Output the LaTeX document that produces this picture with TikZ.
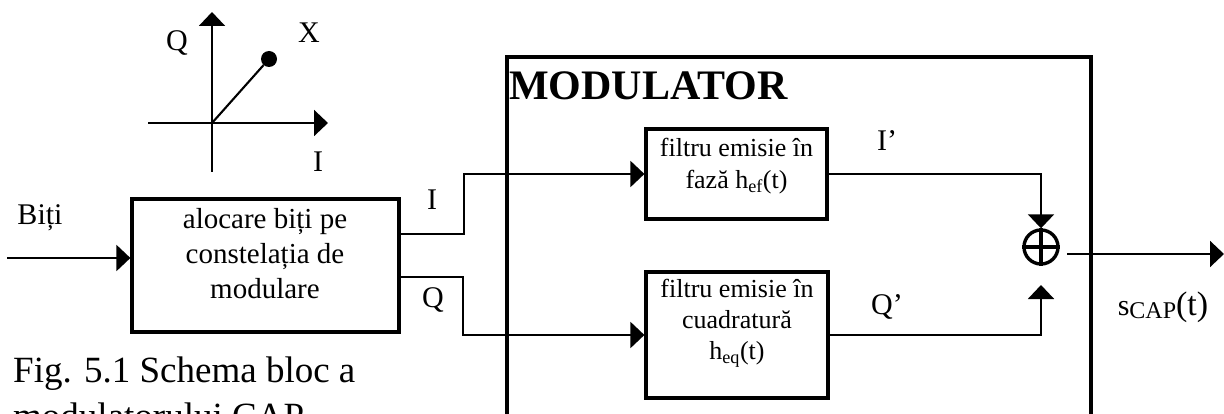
\documentclass[tikz,border=0pt]{standalone}
\usepackage{fontspec}
\setmainfont{Liberation Serif}
\usetikzlibrary{arrows.meta}
\begin{document}
\begin{tikzpicture}[x=1pt,y=-1pt,
  box/.style={draw, line width=3.2pt, inner sep=0pt},
  conn/.style={line width=2.1pt},
  arr/.style={conn, -{Triangle[length=14pt,width=26pt]}},
  lbl/.style={font=\fontsize{30}{36}\selectfont, inner sep=0pt},
  btext/.style={align=center, inner sep=0pt}]
\useasboundingbox (0,0) rectangle (1224,414);
\clip (0,0) rectangle (1224,414);

% constellation axes
\coordinate (O) at (212,123);
\coordinate (vb) at (212,172);
\coordinate (vt) at (212,12);
\coordinate (hl) at (148,123);
\coordinate (hr) at (328,123);
\draw[arr] (vb) -- (vt);
\draw[arr] (hl) -- (hr);
\node[circle, fill, minimum size=16pt, inner sep=0pt] (pt) at (269,59) {};
\draw[conn] (O) -- (pt);
\node[lbl] (lq) at (177,43) {Q};
\node[lbl] (lx) at (309,33) {X};
\node[lbl] (li) at (318,162) {I};

% allocation block
\node[box, minimum width=267pt, minimum height=133pt] (alloc) at (265.5,265.5) {};
\node[btext, font=\fontsize{29}{35}\selectfont] (alloct) at (265,254) {alocare biți pe\\constelația de\\modulare};
\node[lbl] (bits) at (40,218) {Biți};
\coordinate (in) at (7,258);
\draw[arr] (in) -- (alloc.west |- in);

% modulator frame
\draw[line width=3.2pt] (507,440) -- (507,57) -- (1091,57) -- (1091,440);
\node[anchor=base west, inner sep=0pt, font=\bfseries\fontsize{42}{48}\selectfont] (modt) at (509,100) {MODULATOR};

% filters
\node[box, minimum width=181pt, minimum height=90pt] (f1) at (736.5,174) {};
\node[btext, font=\fontsize{26}{32}\selectfont] (f1t) at (736.5,166) {filtru emisie în\\fază h\textsubscript{ef}(t)};
\node[box, minimum width=182pt, minimum height=126pt] (f2) at (737,335) {};
\node[btext, font=\fontsize{26}{31}\selectfont] (f2t) at (737,323) {filtru emisie în\\cuadratură\\h\textsubscript{eq}(t)};

% I and Q paths
\coordinate (aI) at (399,234);
\coordinate (aQ) at (399,277);
\draw[arr] (aI) -- (464,234) |- (f1.west);
\draw[arr] (aQ) -- (463,277) |- (f2.west);
\node[lbl] (lI) at (432,200) {I};
\node[lbl] (lQ) at (433,300) {Q};

% summer
\node[draw, circle, line width=3.4pt, minimum size=34pt, inner sep=0pt] (sum) at (1041,247) {};
\draw[line width=3.4pt] (sum.north) -- (sum.south) (sum.west) -- (sum.east);
\coordinate (qin) at (1041,285);
\draw[arr] (f1.east) -| (sum.north);
\draw[arr] (f2.east) -| (qin);
\node[lbl] (lIp) at (887,141) {I’};
\node[lbl] (lQp) at (887,307) {Q’};

% output
\coordinate (sout) at (1067,254);
\coordinate (oend) at (1224,254);
\draw[arr] (sout) -- (oend);
\node[inner sep=0pt] (sl) at (1163,307) {{\fontsize{30}{32}\selectfont s}{\fontsize{24}{26}\selectfont\raisebox{-3pt}{CAP}}{\fontsize{34}{36}\selectfont(t)}};

% caption
\node[anchor=base west, inner sep=0pt, font=\fontsize{37}{46}\selectfont] (cap1) at (13,382) {Fig. 5.1 Schema bloc a};
\node[anchor=base west, inner sep=0pt, font=\fontsize{37}{46}\selectfont] (cap2) at (13,428) {modulatorului CAP};
\end{tikzpicture}
\end{document}
